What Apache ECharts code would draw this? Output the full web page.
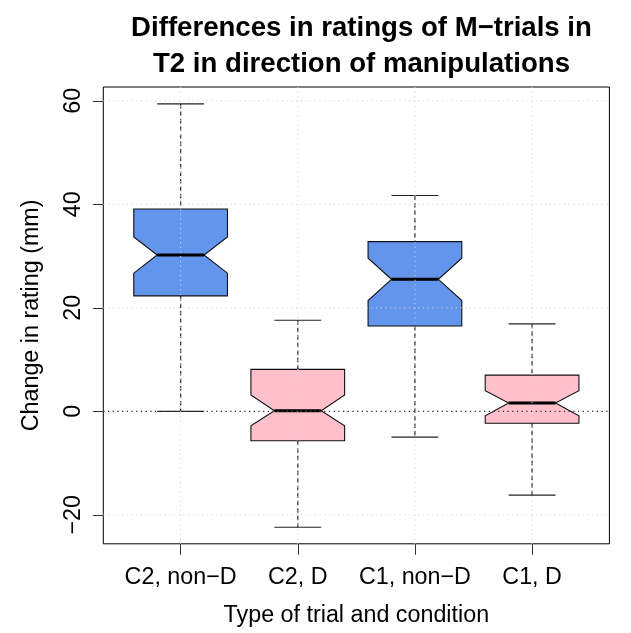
<!DOCTYPE html>
<html>
<head>
<meta charset="utf-8">
<script src="https://cdn.jsdelivr.net/npm/echarts@6/dist/echarts.min.js"></script>
<style>
  html, body { margin: 0; padding: 0; background: #fff; }
  #chart { width: 631px; height: 633px; }
</style>
</head>
<body>
<div id="chart"></div>
<script>
// ---- Data ----
const categories  = ['C2, non\u2212D', 'C2, D', 'C1, non\u2212D', 'C1, D'];
const positions   = [1, 2, 3, 4];
const whiskerLow  = [0.0, -22.4, -5.0, -16.2];
const q1          = [22.3, -5.7, 16.5, -2.3];
const notchLow    = [26.7, -2.8, 21.4, -0.85];
const median      = [30.2, 0.1, 25.5, 1.6];
const notchHigh   = [33.7, 3.15, 29.6, 4.0];
const q3          = [39.1, 8.1, 32.8, 7.0];
const whiskerHigh = [59.4, 17.6, 41.7, 16.9];
const yTicks      = [-20, 0, 20, 40, 60];

const fills = ['#6495ED', '#FFC0CB', '#6495ED', '#FFC0CB'];

const boxData = positions.map((p, i) => [p, whiskerLow[i], q1[i], notchLow[i], median[i], notchHigh[i], q3[i], whiskerHigh[i], i]);

const FONT = 'Liberation Sans, Arial, Helvetica, sans-serif';
const XMIN = 0.34, XMAX = 4.66, YMIN = -25.6, YMAX = 62.67;

function renderBox(params, api) {
  const x = api.value(0);
  const lo = api.value(1), b1 = api.value(2), nlo = api.value(3), med = api.value(4),
        nhi = api.value(5), b3 = api.value(6), hi = api.value(7), idx = api.value(8);
  const hw = 0.4, nw = 0.2, cw = 0.2;
  const P = (dx, v) => api.coord([x + dx, v]);
  const poly = [P(-hw, b1), P(-hw, nlo), P(-nw, med), P(-hw, nhi), P(-hw, b3),
                P(hw, b3), P(hw, nhi), P(nw, med), P(hw, nlo), P(hw, b1)];
  const c = P(0, 0)[0];
  const dash = { stroke: '#3a3a3a', lineWidth: 1.3, lineDash: [4.5, 3] };
  const solid = { stroke: '#222', lineWidth: 1.2 };
  return {
    type: 'group',
    children: [
      { type: 'line', shape: { x1: c, y1: P(0, hi)[1], x2: c, y2: P(0, b3)[1] }, style: dash },
      { type: 'line', shape: { x1: c, y1: P(0, b1)[1], x2: c, y2: P(0, lo)[1] }, style: dash },
      { type: 'line', shape: { x1: P(-cw, hi)[0], y1: P(0, hi)[1], x2: P(cw, hi)[0], y2: P(0, hi)[1] }, style: solid },
      { type: 'line', shape: { x1: P(-cw, lo)[0], y1: P(0, lo)[1], x2: P(cw, lo)[0], y2: P(0, lo)[1] }, style: solid },
      { type: 'polygon', shape: { points: poly }, style: { fill: fills[idx], stroke: '#111', lineWidth: 1.1 } },
      { type: 'line', shape: { x1: P(-nw, med)[0], y1: P(0, med)[1], x2: P(nw, med)[0], y2: P(0, med)[1] }, style: { stroke: '#000', lineWidth: 3 } }
    ]
  };
}

function renderGrid(params, api) {
  if (params.dataIndex !== 0) return null;
  const children = [];
  const grey = { stroke: '#d3d3d3', lineWidth: 1, lineDash: [1.2, 3.5] };
  yTicks.forEach(t => {
    const a = api.coord([XMIN, t]), b = api.coord([XMAX, t]);
    children.push({ type: 'line', shape: { x1: a[0], y1: a[1], x2: b[0], y2: b[1] }, style: grey });
  });
  positions.forEach(p => {
    const a = api.coord([p, YMAX]), b = api.coord([p, YMIN]);
    children.push({ type: 'line', shape: { x1: a[0], y1: a[1], x2: b[0], y2: b[1] }, style: grey });
  });
  const z0 = api.coord([XMIN, 0]), z1 = api.coord([XMAX, 0]);
  children.push({ type: 'line', shape: { x1: z0[0], y1: z0[1], x2: z1[0], y2: z1[1] }, style: { stroke: '#000', lineWidth: 1, lineDash: [1.2, 3.5] } });
  return { type: 'group', children };
}

const chart = echarts.init(document.getElementById('chart'), null, { renderer: 'canvas' });
chart.setOption({
  animation: false,
  backgroundColor: '#fff',
  title: {
    text: 'Differences in ratings of M\u2212trials in\nT2 in direction of manipulations',
    left: 356.5,
    top: 5,
    textAlign: 'center',
    textStyle: { fontFamily: FONT, fontWeight: 'bold', fontSize: 27.6, lineHeight: 36, color: '#000' }
  },
  grid: {
    left: 103.3, right: 21.6, top: 87, bottom: 89.2,
    show: true, borderColor: '#000', borderWidth: 1, backgroundColor: 'transparent'
  },
  xAxis: {
    type: 'value', min: XMIN, max: XMAX,
    axisLine: { show: false, onZero: false },
    splitLine: { show: false },
    axisTick: { show: true, customValues: positions, length: 11, inside: false, lineStyle: { color: '#333', width: 1 } },
    axisLabel: {
      customValues: positions,
      formatter: v => categories[positions.indexOf(Math.round(v))] || '',
      fontFamily: FONT, fontSize: 23.3, color: '#000', margin: 22
    },
    name: 'Type of trial and condition',
    nameLocation: 'middle', nameGap: 60,
    nameTextStyle: { fontFamily: FONT, fontSize: 23.3, color: '#000' }
  },
  yAxis: {
    type: 'value', min: YMIN, max: YMAX,
    axisLine: { show: false, onZero: false },
    splitLine: { show: false },
    axisTick: { show: true, customValues: yTicks, length: 10.5, lineStyle: { color: '#333', width: 1 } },
    axisLabel: {
      customValues: yTicks, rotate: 90,
      formatter: v => String(v).replace('-', '\u2212'),
      fontFamily: FONT, fontSize: 23.3, color: '#000', margin: 18
    },
    name: 'Change in rating (mm)',
    nameLocation: 'middle', nameGap: 60, nameRotate: 90,
    nameTextStyle: { fontFamily: FONT, fontSize: 23.3, color: '#000' }
  },
  series: [
    { type: 'custom', renderItem: renderBox, data: boxData, z: 2, clip: false,
      encode: { x: 0, y: [1, 7] } },
    { type: 'custom', renderItem: renderGrid, data: boxData, z: 5, silent: true,
      encode: { x: 0, y: [1, 7] } }
  ]
});
</script>
</body>
</html>
